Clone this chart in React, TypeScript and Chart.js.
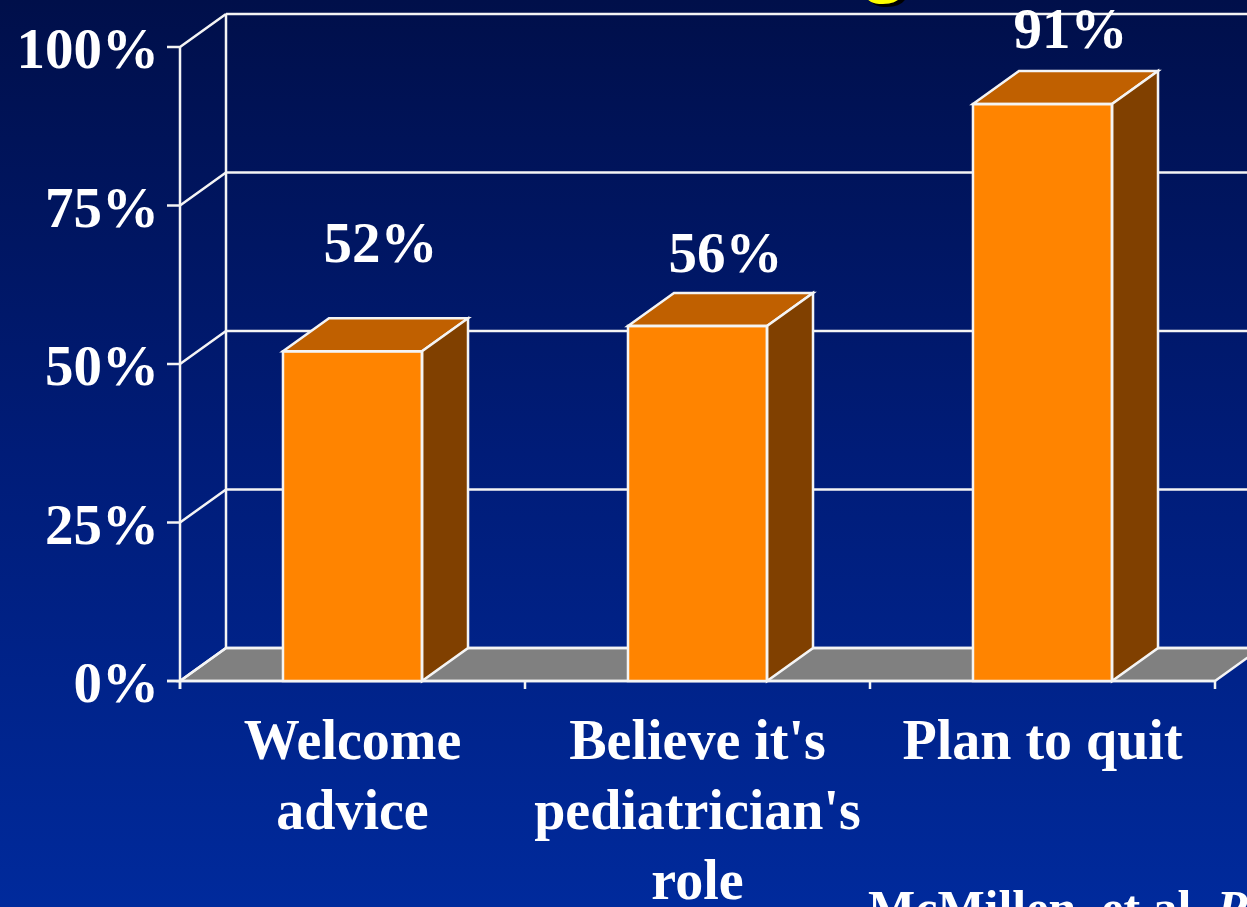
import React, { useEffect, useRef } from "react";
import Chart from "chart.js/auto";

const categories: string[][] = [
  ["Welcome", "advice"],
  ["Believe it's", "pediatrician's", "role"],
  ["Plan to quit"],
];
const values: number[] = [52, 56, 91];
const valueLabels: string[] = ["52%", "56%", "91%"];
const yTickValues: number[] = [0, 25, 50, 75, 100];
const yTickLabels: string[] = ["0%", "25%", "50%", "75%", "100%"];
const citation = "McMillen, et al. ";
const citationItalic = "Pediatrics";

const W = 1247;
const H = 907;
const DX = 46;
const DY = -33;
const FONT = "'Liberation Serif', 'Times New Roman', serif";
const labelLift = [56, 21, 23];

export default function App() {
  const ref = useRef<HTMLCanvasElement | null>(null);

  useEffect(() => {
    const canvas = ref.current!;
    const bgPlugin = {
      id: "bg3d",
      beforeDraw(chart: any) {
        const ctx = chart.ctx;
        const g = ctx.createLinearGradient(0, 0, 0, H);
        g.addColorStop(0, "#000f4a");
        g.addColorStop(0.5, "#001c78");
        g.addColorStop(1, "#002a9c");
        ctx.save();
        ctx.fillStyle = g;
        ctx.fillRect(0, 0, W, H);
        // cut-off title glyph
        ctx.font = `bold 78px ${FONT}`;
        ctx.textAlign = "center";
        ctx.textBaseline = "alphabetic";
        ctx.fillStyle = "#000000";
        ctx.fillText("g", 888, -10);
        ctx.fillStyle = "#ffff00";
        ctx.fillText("g", 884, -13);
        ctx.restore();
      },
      beforeDatasetsDraw(chart: any) {
        const ctx = chart.ctx;
        const a = chart.chartArea;
        const ys = chart.scales.y;
        const xs = chart.scales.x;
        const y0 = ys.getPixelForValue(0);
        const yTop = ys.getPixelForValue(100);
        ctx.save();
        ctx.strokeStyle = "#f4f4f4";
        ctx.lineWidth = 2.5;
        // floor
        ctx.beginPath();
        ctx.moveTo(a.left, y0);
        ctx.lineTo(a.right, y0);
        ctx.lineTo(a.right + DX, y0 + DY);
        ctx.lineTo(a.left + DX, y0 + DY);
        ctx.closePath();
        ctx.fillStyle = "#808080";
        ctx.fill();
        ctx.stroke();
        // back wall
        ctx.beginPath();
        ctx.moveTo(a.left + DX, yTop + DY);
        ctx.lineTo(a.left + DX, y0 + DY);
        ctx.stroke();
        yTickValues.forEach((v) => {
          const y = ys.getPixelForValue(v);
          ctx.beginPath();
          ctx.moveTo(a.left + DX, y + DY);
          ctx.lineTo(a.right + DX, y + DY);
          ctx.moveTo(a.left, y);
          ctx.lineTo(a.left + DX, y + DY);
          ctx.moveTo(a.left - 13, y);
          ctx.lineTo(a.left, y);
          ctx.stroke();
        });
        // front axes
        ctx.beginPath();
        ctx.moveTo(a.left, yTop);
        ctx.lineTo(a.left, y0 + 8);
        ctx.moveTo(a.left - 13, y0);
        ctx.lineTo(a.right, y0);
        ctx.stroke();
        const n = categories.length;
        const step = (a.right - a.left) / n;
        for (let i = 0; i <= n; i++) {
          const x = a.left + step * i;
          ctx.beginPath();
          ctx.moveTo(x, y0);
          ctx.lineTo(x, y0 + 8);
          ctx.stroke();
        }
        // y tick labels
        ctx.fillStyle = "#ffffff";
        ctx.font = `bold 57px ${FONT}`;
        ctx.textAlign = "right";
        ctx.textBaseline = "alphabetic";
        yTickValues.forEach((v, i) => {
          const y = ys.getPixelForValue(v);
          ctx.fillText(yTickLabels[i], a.left - 21, y + 21);
        });
        // category labels
        ctx.font = `bold 56px ${FONT}`;
        ctx.textAlign = "center";
        categories.forEach((lines, i) => {
          const cx = xs.getPixelForValue(i);
          lines.forEach((ln, j) => {
            ctx.fillText(ln, cx, y0 + 78 + j * 70);
          });
        });
        // citation
        ctx.textAlign = "left";
        ctx.font = `bold 50px ${FONT}`;
        ctx.fillText(citation, 868, 925);
        const w = ctx.measureText(citation).width;
        ctx.font = `italic bold 50px ${FONT}`;
        ctx.fillText(citationItalic, 868 + w, 925);
        ctx.restore();
      },
      afterDatasetsDraw(chart: any) {
        const ctx = chart.ctx;
        const meta = chart.getDatasetMeta(0);
        ctx.save();
        ctx.strokeStyle = "#f4f4f4";
        ctx.lineWidth = 2.5;
        ctx.lineJoin = "miter";
        meta.data.forEach((bar: any, i: number) => {
          const { x, y, width, base } = bar.getProps(["x", "y", "width", "base"], true);
          const l = x - width / 2;
          const r = x + width / 2;
          ctx.beginPath();
          ctx.moveTo(l, y);
          ctx.lineTo(r, y);
          ctx.lineTo(r + DX, y + DY);
          ctx.lineTo(l + DX, y + DY);
          ctx.closePath();
          ctx.fillStyle = "#c06000";
          ctx.fill();
          ctx.stroke();
          ctx.beginPath();
          ctx.moveTo(r, y);
          ctx.lineTo(r + DX, y + DY);
          ctx.lineTo(r + DX, base + DY);
          ctx.lineTo(r, base);
          ctx.closePath();
          ctx.fillStyle = "#804000";
          ctx.fill();
          ctx.stroke();
          ctx.strokeRect(l, y, width, base - y);
          ctx.fillStyle = "#ffffff";
          ctx.font = `bold 57px ${FONT}`;
          ctx.textAlign = "center";
          ctx.textBaseline = "alphabetic";
          ctx.fillText(valueLabels[i], x + DX / 2 + 5, y + DY - labelLift[i]);
        });
        ctx.restore();
      },
    };

    const chart = new Chart(canvas, {
      type: "bar",
      data: {
        labels: categories.map((c) => c.join(" ")),
        datasets: [
          {
            data: values,
            backgroundColor: "#ff8400",
            borderColor: "#f4f4f4",
            borderWidth: 0,
            categoryPercentage: 1,
            barPercentage: 0.403,
          },
        ],
      },
      options: {
        responsive: false,
        animation: false,
        devicePixelRatio: 1,
        layout: { padding: { left: 180, right: 32, top: 47, bottom: 226 } },
        plugins: { legend: { display: false }, tooltip: { enabled: false } },
        scales: {
          x: { display: false, offset: true },
          y: { display: false, min: 0, max: 100 },
        },
      },
      plugins: [bgPlugin],
    });
    return () => chart.destroy();
  }, []);

  return (
    <canvas
      ref={ref}
      width={W}
      height={H}
      style={{ position: "fixed", left: 0, top: 0, width: W, height: H }}
    />
  );
}
